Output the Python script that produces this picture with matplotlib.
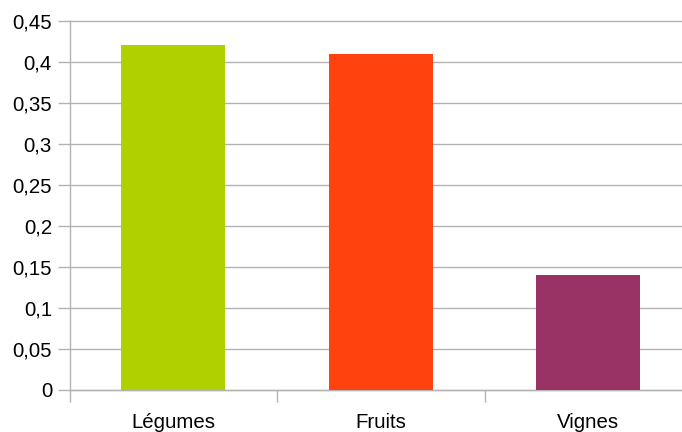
import matplotlib
matplotlib.use("Agg")
import matplotlib.pyplot as plt
from matplotlib.ticker import FuncFormatter, FixedLocator

categories = ["Légumes", "Fruits", "Vignes"]
values = [0.421, 0.41, 0.14]
colors = ["#b0d000", "#ff420e", "#993366"]
yticks = [0, 0.05, 0.1, 0.15, 0.2, 0.25, 0.3, 0.35, 0.4, 0.45]

plt.rcParams['font.family'] = ['Liberation Sans', 'DejaVu Sans']

W, H = 682, 432
fig = plt.figure(figsize=(W / 100, H / 100), dpi=100)
x0, x1 = 69.5, 692
y_top, y_bot = 21.5, 389.5
ax = fig.add_axes([x0 / W, 1 - y_bot / H, (x1 - x0) / W, (y_bot - y_top) / H])

xs = range(len(categories))
ax.bar(xs, values, width=0.5, color=colors, zorder=3)
ax.set_xlim(-0.5, len(categories) - 0.5)
ax.set_ylim(0, 0.45)

fs = 14.7
ax.set_yticks(yticks)
ax.yaxis.set_major_formatter(FuncFormatter(lambda v, p: ("%g" % round(v, 2)).replace(".", ",")))
ax.grid(axis="y", color="#b3b3b3", linewidth=1.0, zorder=0)
for gl in ax.get_ygridlines():
    gl.set_clip_on(False)
ax.tick_params(axis="y", length=8.3, width=1.0, color="#b3b3b3", pad=4.3, labelsize=fs, labelcolor="#000000")

ax.set_xticks(list(xs))
ax.set_xticklabels(categories)
ax.xaxis.set_minor_locator(FixedLocator([-0.5, 0.5, 1.5, 2.5]))
ax.tick_params(axis="x", which="major", length=0, pad=17, labelsize=fs, labelcolor="#000000")
ax.tick_params(axis="x", which="minor", length=8.3, width=1.0, color="#b3b3b3")

for s in ["top", "right"]:
    ax.spines[s].set_visible(False)
for s in ["left", "bottom"]:
    ax.spines[s].set_color("#b3b3b3")
    ax.spines[s].set_linewidth(1.0)

fig.savefig("out.png", dpi=100)
